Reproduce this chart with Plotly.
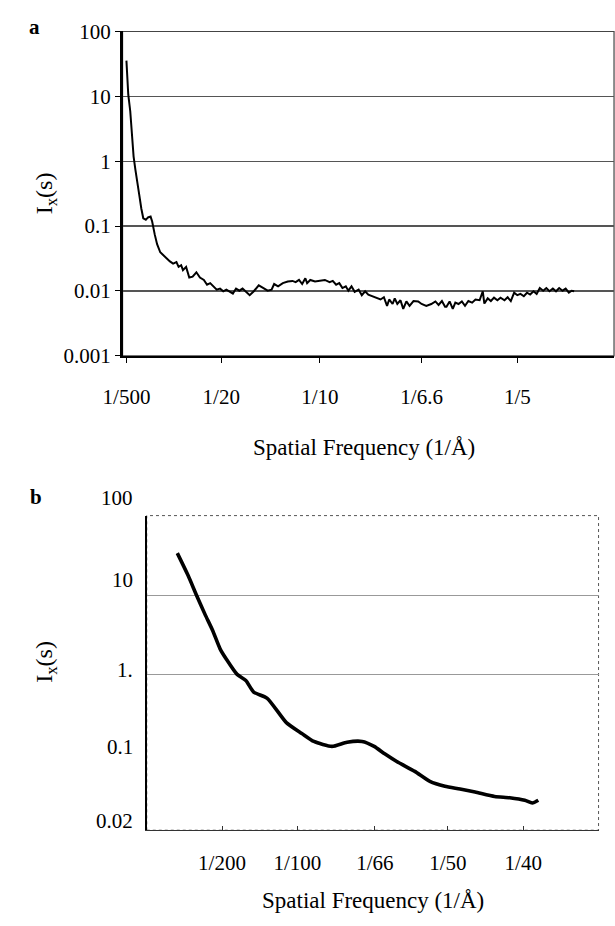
import numpy as np
import plotly.graph_objects as go

# ---------------- data: panel a ----------------
s_a = [0.00196, 0.0023, 0.0029, 0.0039, 0.0046, 0.0056, 0.0065, 0.0075, 0.0085, 0.0095,
       0.0105, 0.0118, 0.0129, 0.0142, 0.0150, 0.0163, 0.0175, 0.0191,
       0.0216, 0.0240, 0.0256, 0.0273, 0.0284, 0.0297, 0.0306, 0.0322, 0.0338, 0.0355,
       0.0374, 0.0392, 0.0412, 0.0428, 0.0444, 0.0461, 0.0477, 0.0494, 0.0510, 0.0526,
       0.0543, 0.0559, 0.0575, 0.0592, 0.0608, 0.0624, 0.0644, 0.0665, 0.0690, 0.0714,
       0.0735, 0.0755, 0.0768, 0.0788, 0.0812, 0.0837, 0.0861, 0.0877, 0.0894, 0.0910,
       0.0926, 0.0935, 0.0951, 0.0975, 0.1000, 0.1025, 0.1049, 0.1065, 0.1082, 0.1098,
       0.1114, 0.1131, 0.1144, 0.1160, 0.1176, 0.1196, 0.1212, 0.1229, 0.1245, 0.1265,
       0.1286, 0.1307, 0.1324, 0.1340, 0.1351, 0.1368, 0.1379, 0.1392, 0.1408, 0.1422,
       0.1438, 0.1454, 0.1474, 0.1498, 0.1515, 0.1539, 0.1564, 0.1585, 0.1601, 0.1618,
       0.1634, 0.1641, 0.1657, 0.1673, 0.1686, 0.1702, 0.1719, 0.1735, 0.1752, 0.1771,
       0.1788, 0.1809, 0.1825, 0.1833, 0.1850, 0.1866, 0.1882, 0.1899, 0.1915, 0.1935,
       0.1951, 0.1967, 0.1984, 0.2000, 0.2016, 0.2033, 0.2049, 0.2065, 0.2082, 0.2098,
       0.2114, 0.2131, 0.2147, 0.2163, 0.2180, 0.2196, 0.2212, 0.2229, 0.2245, 0.2261,
       0.2275, 0.2288]
I_a = [35.5, 21.0, 10.6, 5.9, 2.65, 1.18, 0.745, 0.50, 0.297, 0.187,
       0.132, 0.125, 0.136, 0.140, 0.118, 0.0745, 0.0527, 0.0395,
       0.0332, 0.0286, 0.0264, 0.0279, 0.0235, 0.0249, 0.0209, 0.0235, 0.0161, 0.0166,
       0.0194, 0.0161, 0.0148, 0.0125, 0.0132, 0.0118, 0.0105, 0.0109, 0.0099, 0.0105,
       0.0097, 0.0091, 0.0109, 0.0101, 0.0109, 0.0099, 0.0086, 0.0099, 0.0122, 0.0111,
       0.0101, 0.0105, 0.0128, 0.0118, 0.0132, 0.0140, 0.0143, 0.0137, 0.0148, 0.0128,
       0.0157, 0.0132, 0.0148, 0.0140, 0.0143, 0.0148, 0.0137, 0.0143, 0.0125, 0.0132,
       0.0111, 0.0118, 0.0101, 0.0118, 0.0097, 0.0105, 0.0086, 0.0099, 0.0088, 0.0083,
       0.0080, 0.0074, 0.0080, 0.0059, 0.0074, 0.0063, 0.0077, 0.0063, 0.0072, 0.0053,
       0.0069, 0.0059, 0.0070, 0.0069, 0.0063, 0.0059, 0.0063, 0.0069, 0.0061, 0.0070,
       0.0057, 0.0057, 0.0069, 0.0053, 0.0066, 0.0063, 0.0069, 0.0059, 0.0070, 0.0066,
       0.0074, 0.0072, 0.0099, 0.0064, 0.0077, 0.0070, 0.0079, 0.0072, 0.0079, 0.0072,
       0.0080, 0.0070, 0.0094, 0.0086, 0.0090, 0.0083, 0.0094, 0.0088, 0.0099, 0.0090,
       0.0111, 0.0101, 0.0111, 0.0099, 0.0109, 0.0099, 0.0111, 0.0101, 0.0109, 0.0094,
       0.0101, 0.0099]

xtick_vals_a = [1/500, 1/20, 1/10, 1/6.6, 1/5]
xtick_text_a = ["1/500", "1/20", "1/10", "1/6.6", "1/5"]
ytick_vals_a = [100, 10, 1, 0.1, 0.01, 0.001]
ytick_text_a = ["100", "10", "1", "0.1", "0.01", "0.001"]

# ---------------- data: panel b ----------------
s_b = [0.00203, 0.00274, 0.00329, 0.00387, 0.00437, 0.00487, 0.0053, 0.0060, 0.00658, 0.0071,
       0.0080, 0.00927, 0.0103, 0.0111, 0.0123, 0.0133, 0.0143, 0.0151, 0.0158, 0.0166,
       0.0178, 0.0188, 0.0198, 0.0208, 0.0218, 0.0231, 0.0241, 0.0251, 0.0256, 0.0260]
I_b = [33.7, 17.7, 10.1, 5.7, 3.6, 2.1, 1.54, 1.0, 0.84, 0.60,
       0.50, 0.247, 0.18, 0.143, 0.124, 0.140, 0.143, 0.124, 0.100, 0.080,
       0.060, 0.045, 0.039, 0.036, 0.033, 0.029, 0.028, 0.026, 0.024, 0.026]

xtick_vals_b = [1/200, 1/100, 1/66, 1/50, 1/40]
xtick_text_b = ["1/200", "1/100", "1/66", "1/50", "1/40"]
ytick_vals_b = [100, 10, 1, 0.1, 0.0109]
ytick_text_b = ["100", "10", "1.", "0.1", "0.02"]
ytick_shift_b = [18, 15, 4, 7, 9]

FONT = "Liberation Serif, Times New Roman, serif"
W, H = 615, 926

fig = go.Figure()
fig.add_trace(go.Scatter(x=s_a, y=I_a, mode="lines", line=dict(color="black", width=2),
                         xaxis="x", yaxis="y", showlegend=False, hoverinfo="skip"))
fig.add_trace(go.Scatter(x=s_b, y=I_b, mode="lines", line=dict(color="black", width=3.6, shape="spline", smoothing=0.6),
                         xaxis="x2", yaxis="y2", showlegend=False, hoverinfo="skip"))

ax_font = dict(family=FONT, size=21, color="black")

fig.update_layout(
    width=W, height=H,
    margin=dict(l=0, r=0, t=0, b=0),
    paper_bgcolor="white", plot_bgcolor="white",
    font=dict(family=FONT, color="black"),
    xaxis=dict(domain=[106/W, 614/W], range=[0, 0.249], tickvals=xtick_vals_a, ticktext=xtick_text_a,
               showgrid=False, zeroline=False, showline=True, linecolor="black", linewidth=2,
               ticks="outside", ticklen=5, tickcolor="black", tickwidth=1,
               tickfont=ax_font, ticklabelstandoff=16, anchor="y"),
    yaxis=dict(domain=[1-353/H, 1-20/H], type="log", range=[-3, 2], tickvals=ytick_vals_a,
               ticktext=ytick_text_a, showgrid=True, gridcolor="#555", gridwidth=1.3,
               zeroline=False, showline=True, linecolor="black", linewidth=2.5,
               ticks="outside", ticklen=5, tickcolor="black", tickwidth=1,
               tickfont=ax_font, anchor="x"),
    xaxis2=dict(domain=[131/W, 598/W], range=[0, 0.03], tickvals=xtick_vals_b, ticktext=xtick_text_b,
                showgrid=False, zeroline=False, showline=True, linecolor="#333", linewidth=1,
                ticks="inside", ticklen=4, tickcolor="#333", tickwidth=1,
                tickfont=ax_font, ticklabelstandoff=14, anchor="y2"),
    yaxis2=dict(domain=[1-840/H, 1-517/H], type="log", range=[np.log10(0.0109), 2],
                tickvals=[10, 1], showticklabels=False, showgrid=True, gridcolor="#999", gridwidth=1,
                zeroline=False, showline=True, linecolor="black", linewidth=1.5, ticks="",
                anchor="x2"),
)

shapes = [
    dict(type="rect", xref="x domain", yref="y domain", x0=0, x1=1, y0=0, y1=1,
         line=dict(color="#444", width=1.2), layer="below"),
    dict(type="rect", xref="x2 domain", yref="y2 domain", x0=0, x1=1, y0=0, y1=1,
         line=dict(color="#555", width=1, dash="dot"), layer="below"),
    dict(type="line", xref="x2 domain", yref="y2", x0=0, x1=1, y0=-1, y1=-1,
         line=dict(color="#222", width=1.2), layer="below"),
]

annotations = [
    dict(text="<b>a</b>", x=15/W, y=1-15/H, xref="paper", yref="paper", showarrow=False,
         font=dict(family=FONT, size=21), xanchor="center", yanchor="middle"),
    dict(text="<b>b</b>", x=17/W, y=1-498/H, xref="paper", yref="paper", showarrow=False,
         font=dict(family=FONT, size=21), xanchor="center", yanchor="middle"),
    dict(text="Spatial Frequency (1/Å)", x=356/W, y=1-447/H, xref="paper", yref="paper",
         showarrow=False, font=dict(family=FONT, size=23), xanchor="center", yanchor="middle"),
    dict(text="Spatial Frequency (1/Å)", x=365/W, y=1-912/H, xref="paper", yref="paper",
         showarrow=False, font=dict(family=FONT, size=23), xanchor="center", yanchor="middle"),
    dict(text="I<sub>x</sub>(s)", x=27/W, y=1-186/H, xref="paper", yref="paper", textangle=-90,
         showarrow=False, font=dict(family=FONT, size=24), xanchor="center", yanchor="middle"),
    dict(text="I<sub>x</sub>(s)", x=27/W, y=1-667/H, xref="paper", yref="paper", textangle=-90,
         showarrow=False, font=dict(family=FONT, size=24), xanchor="center", yanchor="middle"),
]
for v, t, sh in zip(ytick_vals_b, ytick_text_b, ytick_shift_b):
    annotations.append(dict(text=t, x=119/W, xref="paper", y=np.log10(v), yref="y2", yshift=sh,
                            showarrow=False, font=ax_font, xanchor="right", yanchor="middle"))

fig.update_layout(shapes=shapes, annotations=annotations)
fig.write_html("out.html", config={"displayModeBar": False, "staticPlot": True},
               post_script="document.body.style.margin='0';document.body.style.overflow='hidden';")
